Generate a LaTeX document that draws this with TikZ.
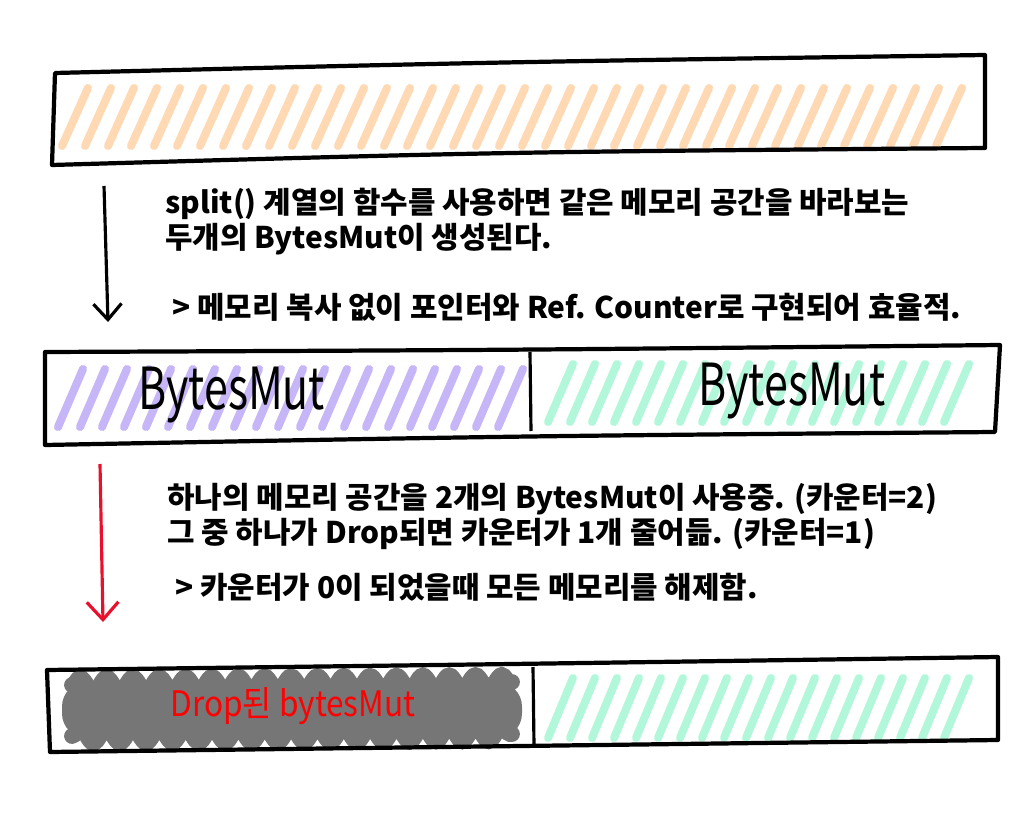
\documentclass[tikz,border=0pt]{standalone}
\usepackage{fontspec}
\setmainfont{Noto Sans CJK KR}
\usepackage{xcolor}
\usetikzlibrary{positioning,arrows.meta,decorations.pathmorphing}

\definecolor{peach}{HTML}{FFD9B3}
\definecolor{lilac}{HTML}{C6B5F7}
\definecolor{mint}{HTML}{B3F7DB}
\definecolor{dropgray}{HTML}{767676}
\definecolor{pen red}{HTML}{E8102A}

\begin{document}
\begin{tikzpicture}[x=0.02cm,y=-0.02cm,
	box/.style={line width=2.4pt, line join=round},
	hatchline/.style={line width=4.6pt, line cap=round},
	note/.style={anchor=base west, inner sep=0pt, font=\fontsize{17}{20}\selectfont\bfseries},
	hand/.style={inner sep=0pt, xscale=0.74, font=\fontsize{33}{36}\selectfont},
	bumps/.style={dropgray, line width=9pt, line cap=round, decorate,
		decoration={snake, amplitude=4pt, segment length=15pt}},
	]
	\useasboundingbox (0,0) rectangle (1024,827);
	
	% first buffer, one memory block
	\foreach \x in {62,85,...,950}
	\draw[hatchline, peach] (\x,146) -- ++(26,-58);
	\draw[box] (55,73) .. controls (500,62) .. (985,55) -- (985,148) .. controls (500,152) .. (52,165) -- cycle;
	
	\coordinate (a1 start) at (104,186);
	\coordinate (a1 end) at (108,322);
	\draw[line width=1.8pt, -{Straight Barb[length=9pt,width=16pt]}] (a1 start) -- (a1 end);
	
	\node[note] (split1) at (165,214) {split() 계열의 함수를 사용하면 같은 메모리 공간을 바라보는};
	\node[note] (split2) at (165,249) {두개의 BytesMut이 생성된다.};
	\node[note] (split3) at (172,319) {> 메모리 복사 없이 포인터와 Ref. Counter로 구현되어 효율적.};
	
	% second buffer, split in two
	\foreach \x in {58,80,...,505}
	\draw[hatchline, lilac] (\x,427) -- ++(25,-58);
	\foreach \x in {548,570,...,960}
	\draw[hatchline, mint] (\x,422) -- ++(25,-58);
	\draw[box] (45,352) .. controls (520,350) .. (1000,345) -- (995,432) .. controls (520,436) .. (45,445) -- cycle;
	\draw[line width=1.8pt] (530,352) -- (531,431);
	\node[hand] (left mut) at (232,395) {BytesMut};
	\node[hand] (right mut) at (792,391) {BytesMut};
	
	\coordinate (a2 start) at (100,464);
	\coordinate (a2 end) at (103,622);
	\draw[line width=1.8pt, pen red, -{Straight Barb[length=10pt,width=18pt]}] (a2 start) -- (a2 end);
	
	\node[note] (drop1) at (167,508) {하나의 메모리 공간을 2개의 BytesMut이 사용중. (카운터=2)};
	\node[note] (drop2) at (167,543) {그 중 하나가 Drop되면 카운터가 1개 줄어듦. (카운터=1)};
	\node[note] (drop3) at (175,598) {> 카운터가 0이 되었을때 모든 메모리를 해제함.};
	
	% third buffer, one half dropped
	\fill[dropgray, rounded corners=14pt] (62,682) rectangle (522,738);
	\draw[bumps] (72,685) -- (512,682);
	\draw[bumps] (72,736) -- (512,734);
	\foreach \x in {548,570,...,960}
	\draw[hatchline, mint] (\x,738) -- ++(25,-60);
	\draw[box] (47,670) .. controls (520,664) .. (998,657) -- (998,740) .. controls (520,746) .. (50,752) -- cycle;
	\draw[line width=1.8pt] (533,667) -- (534,745);
	\node[inner sep=0pt, xscale=0.9, font=\fontsize{20}{22}\selectfont, text=red] (dropped) at (293,706) {Drop된 bytesMut};
\end{tikzpicture}
\end{document}
